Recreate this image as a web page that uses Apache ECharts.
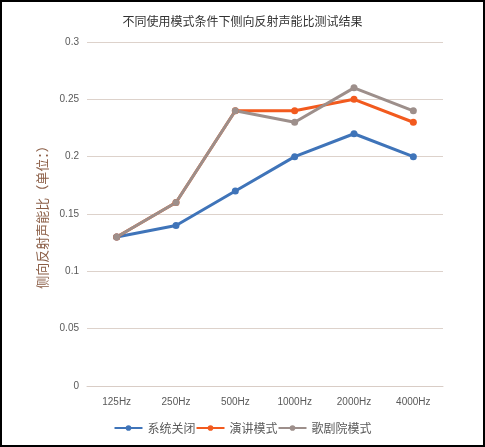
<!DOCTYPE html>
<html>
<head>
<meta charset="utf-8">
<script src="https://cdn.jsdelivr.net/npm/echarts@6/dist/echarts.min.js"></script>
<style>
  html, body { margin: 0; padding: 0; background: #fff; }
  #main { width: 485px; height: 447px; }
</style>
</head>
<body>
<div id="main"></div>
<script>
let chart = null;
let categories = ["125Hz", "250Hz", "500Hz", "1000Hz", "2000Hz", "4000Hz"];
let seriesNames = ["系统关闭", "演讲模式", "歌剧院模式"];
let systemOff = [0.13, 0.14, 0.17, 0.2, 0.22, 0.2];
let speechMode = [0.13, 0.16, 0.24, 0.24, 0.25, 0.23];
let operaMode = [0.13, 0.16, 0.24, 0.23, 0.26, 0.24];
let colors = ["#3f74b9", "#f25a1e", "#9d8f8b"];

function initChart() {
  chart = echarts.init(document.getElementById("main"));
  let data = [systemOff, speechMode, operaMode];
  var option = {
    animation: false,
    color: colors,
    title: {
      text: "不同使用模式条件下侧向反射声能比测试结果",
      left: "center",
      top: 10,
      textStyle: {
        color: "#333",
        fontSize: 12,
        fontWeight: "normal",
        fontFamily: "Noto Sans CJK SC",
      },
    },
    graphic: [
      {
        type: "rect",
        shape: { x: 1, y: 1, width: 483, height: 445 },
        style: { fill: "none", stroke: "#000", lineWidth: 2 },
        silent: true,
      },
    ],
    legend: {
      bottom: 8,
      left: "center",
      itemWidth: 28,
      itemHeight: 7,
      itemGap: 0,
      data: seriesNames,
      textStyle: {
        color: "#595959",
        fontSize: 12,
        fontFamily: "Noto Sans CJK SC",
      },
    },
    grid: {
      left: 87,
      right: 42,
      top: 42,
      bottom: 61,
    },
    xAxis: {
      type: "category",
      data: categories,
      axisTick: { show: false },
      axisLine: { lineStyle: { color: "#d9cdc6" } },
      axisLabel: {
        color: "#595959",
        fontSize: 10,
        margin: 11,
      },
    },
    yAxis: {
      type: "value",
      min: 0,
      max: 0.3,
      interval: 0.05,
      name: "侧向反射声能比（单位：）",
      nameLocation: "middle",
      nameGap: 30,
      nameTextStyle: {
        color: "#8b5e46",
        fontSize: 13,
        fontFamily: "Noto Sans CJK SC",
      },
      axisLabel: {
        color: "#595959",
        fontSize: 10,
        margin: 8,
      },
      splitLine: { lineStyle: { color: "#ddd2cb", width: 1 } },
    },
    series: seriesNames.map(function (name, i) {
      return {
        name: name,
        type: "line",
        data: data[i],
        symbol: "circle",
        symbolSize: 7,
        lineStyle: { width: 3 },
      };
    }),
  };
  chart.setOption(option);
  return chart;
}
initChart();
</script>
</body>
</html>
